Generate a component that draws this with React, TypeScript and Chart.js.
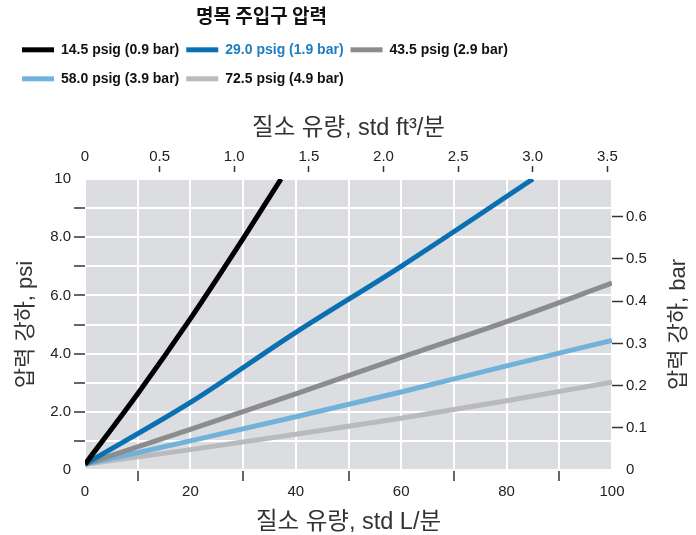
import React, { useEffect, useRef } from 'react';
import { Chart, registerables } from 'chart.js';

Chart.register(...registerables);

// ---- data ----
const seriesLabels = [
  '14.5 psig (0.9 bar)',
  '29.0 psig (1.9 bar)',
  '43.5 psig (2.9 bar)',
  '58.0 psig (3.9 bar)',
  '72.5 psig (4.9 bar)',
];
const flow145 = [0, 10, 20, 30, 37.2];
const drop145 = [0.2, 2.62, 5.2, 7.95, 10];
const flow290 = [0, 20, 40, 60, 85];
const drop290 = [0.2, 2.32, 4.73, 7.0, 10];
const flow435 = [0, 20, 40, 60, 80, 100];
const drop435 = [0.2, 1.4, 2.62, 3.87, 5.1, 6.42];
const flow580 = [0, 20, 40, 60, 80, 100];
const drop580 = [0.2, 1.0, 1.83, 2.68, 3.58, 4.45];
const flow725 = [0, 20, 40, 60, 80, 100];
const drop725 = [0.2, 0.7, 1.23, 1.78, 2.38, 3.02];

const topTicks = [0, 0.5, 1.0, 1.5, 2.0, 2.5, 3.0, 3.5];
const barTicks = [0, 0.1, 0.2, 0.3, 0.4, 0.5, 0.6];

const LPM_PER_CFM = 28.3168;
const PSI_PER_BAR = 14.5038;

const seriesColors = ['#000000', '#0a70b2', '#8b8c8e', '#72b2da', '#b9babc'];
const legendTextColors = ['#111111', '#1f7dc0', '#111111', '#111111', '#111111'];

const SANS = "'Liberation Sans', Arial, sans-serif";
const TITLE = "'Liberation Sans', 'Noto Sans CJK KR', sans-serif";
const KR = "'Noto Sans CJK KR', sans-serif";

export default function App() {
  const ref = useRef<HTMLCanvasElement>(null);

  useEffect(() => {
    const canvas = ref.current!;
    const LEG_PAD = 7;
    const ITEM_H = 22;
    const LT_SIZE = 19;
    const LT_PAD_TOP = 6.5;
    const LT_PAD_BOTTOM = 2.5;
    const TITLE_H = LT_SIZE * 1.2 + LT_PAD_TOP + LT_PAD_BOTTOM;
    const band1 = LEG_PAD + TITLE_H + ITEM_H / 2;
    const baseCtx = canvas.getContext('2d')!;
    const makeBand = (color: string) => {
      const c = document.createElement('canvas');
      c.width = 4;
      c.height = ITEM_H + LEG_PAD;
      const g = c.getContext('2d')!;
      g.fillStyle = color;
      g.fillRect(0, 0, 4, 5);
      const p = baseCtx.createPattern(c, 'repeat')!;
      p.setTransform(new DOMMatrix([1, 0, 0, 1, 0, band1 - 2.5]));
      return p;
    };
    const bands = seriesColors.map(makeBand);

    const pairs = [
      [flow145, drop145],
      [flow290, drop290],
      [flow435, drop435],
      [flow580, drop580],
      [flow725, drop725],
    ];

    const bgPlugin = {
      id: 'plotBg',
      beforeDraw(chart: any) {
        const { ctx, chartArea: a } = chart;
        ctx.save();
        ctx.fillStyle = '#dcdde0';
        ctx.fillRect(a.left, a.top, a.right - a.left, a.bottom - a.top);
        ctx.restore();
      },
    };
    const rightTitle = {
      id: 'rightTitle',
      afterDraw(chart: any) {
        const { ctx, chartArea: a } = chart;
        ctx.save();
        ctx.translate(679, (a.top + a.bottom) / 2);
        ctx.rotate(-Math.PI / 2);
        ctx.font = `22px ${TITLE}`;
        ctx.fillStyle = '#333333';
        ctx.textAlign = 'center';
        ctx.textBaseline = 'middle';
        ctx.fillText('압력 강하, bar', 0, 0);
        ctx.restore();
      },
    };

    const tickFont = { family: SANS, size: 15 };
    const hTitleFont = { family: TITLE, size: 23.5 };
    const vTitleFont = { family: TITLE, size: 22 };
    const tickMark = '#333333';

    const chart = new Chart(canvas, {
      type: 'line',
      data: {
        datasets: pairs.map(([xs, ys], i) => ({
          label: seriesLabels[i],
          data: xs.map((x, k) => ({ x, y: ys[k] })),
          borderColor: seriesColors[i],
          backgroundColor: seriesColors[i],
          borderWidth: 5,
          pointRadius: 0,
          cubicInterpolationMode: 'monotone' as const,
          borderCapStyle: 'butt' as const,
          clip: 0,
          xAxisID: 'x',
          yAxisID: 'y',
        })),
      },
      options: {
        responsive: false,
        animation: false,
        layout: { padding: { left: 15, right: 34, top: 0, bottom: 0 } },
        plugins: {
          tooltip: { enabled: false },
          legend: {
            display: true,
            position: 'top',
            align: 'start',
            onClick: () => {},
            title: {
              display: true,
              text: '명목 주입구 압력',
              color: '#111111',
              font: { family: KR, size: LT_SIZE, weight: 'bold' },
              padding: { top: LT_PAD_TOP, bottom: LT_PAD_BOTTOM },
            },
            labels: {
              boxWidth: 32,
              boxHeight: ITEM_H,
              padding: LEG_PAD,
              font: { family: SANS, size: 14, weight: 'bold' },
              generateLabels: () =>
                seriesLabels.map((t, i) => ({
                  text: t,
                  fillStyle: bands[i] as any,
                  strokeStyle: 'rgba(0,0,0,0)',
                  lineWidth: 0,
                  fontColor: legendTextColors[i],
                  hidden: false,
                  datasetIndex: i,
                })),
            },
          },
        },
        scales: {
          x: {
            type: 'linear',
            position: 'bottom',
            min: 0,
            max: 100,
            afterFit: (s: any) => {
              s.height = 65;
            },
            ticks: {
              stepSize: 10,
              autoSkip: false,
              maxRotation: 0,
              padding: 2,
              color: '#222222',
              font: tickFont,
              callback: (v: any) => (Number(v) % 20 === 0 ? String(v) : ''),
            },
            grid: {
              color: '#ffffff',
              lineWidth: 2,
              tickLength: 11,
              tickWidth: 1.5,
              tickColor: (c: any) => (c.tick && c.tick.value % 20 !== 0 ? tickMark : 'rgba(0,0,0,0)'),
            },
            border: { display: false },
            title: {
              display: true,
              text: '질소 유량, std L/분',
              color: '#333333',
              font: hTitleFont,
              padding: { top: 0, bottom: -1.5 },
            },
          },
          xTop: {
            type: 'linear',
            position: 'top',
            min: 0,
            max: 100 / LPM_PER_CFM,
            afterBuildTicks: (s: any) => {
              s.ticks = topTicks.map((v) => ({ value: v }));
            },
            afterFit: (s: any) => {
              const lg = s.chart.legend;
              s.height = 179 - (lg && lg.height ? lg.height : 98.6);
            },
            ticks: {
              autoSkip: false,
              maxRotation: 0,
              padding: 0,
              color: '#222222',
              font: tickFont,
              callback: (v: any) => (Number(v) === 0 ? '0' : Number(v).toFixed(1)),
            },
            grid: {
              drawOnChartArea: false,
              tickLength: 13,
              tickWidth: 1.5,
              tickBorderDash: [6, 40],
              tickColor: (c: any) => (c.tick && c.tick.value > 0 ? tickMark : 'rgba(0,0,0,0)'),
            },
            border: { display: false },
            title: {
              display: true,
              text: '질소 유량, std ft³/분',
              color: '#333333',
              font: hTitleFont,
              padding: { top: 14.5, bottom: 0 },
            },
          },
          y: {
            type: 'linear',
            position: 'left',
            min: 0,
            max: 10,
            afterFit: (s: any) => {
              s.width = 70;
            },
            ticks: {
              stepSize: 1,
              autoSkip: false,
              padding: 3,
              color: '#222222',
              font: tickFont,
              callback: (v: any) => {
                const n = Number(v);
                if (n === 0) return '0';
                if (n === 10) return '10';
                return n % 2 === 0 ? n.toFixed(1) : '';
              },
            },
            grid: {
              color: '#ffffff',
              lineWidth: 2,
              tickLength: 11,
              tickWidth: 1.5,
              tickColor: (c: any) =>
                c.tick && c.tick.value > 0 && c.tick.value < 10 ? tickMark : 'rgba(0,0,0,0)',
            },
            border: { display: false },
            title: {
              display: true,
              text: '압력 강하, psi',
              color: '#333333',
              font: vTitleFont,
              padding: { top: -2.2, bottom: 0 },
            },
          },
          yBar: {
            type: 'linear',
            position: 'right',
            min: 0,
            max: 10 / PSI_PER_BAR,
            afterBuildTicks: (s: any) => {
              s.ticks = barTicks.map((v) => ({ value: v }));
            },
            afterFit: (s: any) => {
              s.width = 50;
            },
            ticks: {
              autoSkip: false,
              padding: 3,
              color: '#222222',
              font: tickFont,
              callback: (v: any) => (Number(v) === 0 ? '0' : Number(v).toFixed(1)),
            },
            grid: {
              drawOnChartArea: false,
              tickLength: 11,
              tickWidth: 1.5,
              tickColor: (c: any) => (c.tick && c.tick.value > 0 ? tickMark : 'rgba(0,0,0,0)'),
            },
            border: { display: false },
          },
        },
      } as any,
      plugins: [bgPlugin, rightTitle],
    });
    return () => chart.destroy();
  }, []);

  return (
    <div style={{ position: 'absolute', left: 0, top: 0, width: 696, height: 535, background: '#fff' }}>
      <canvas ref={ref} width={696} height={535} style={{ width: 696, height: 535, display: 'block' }} />
    </div>
  );
}
